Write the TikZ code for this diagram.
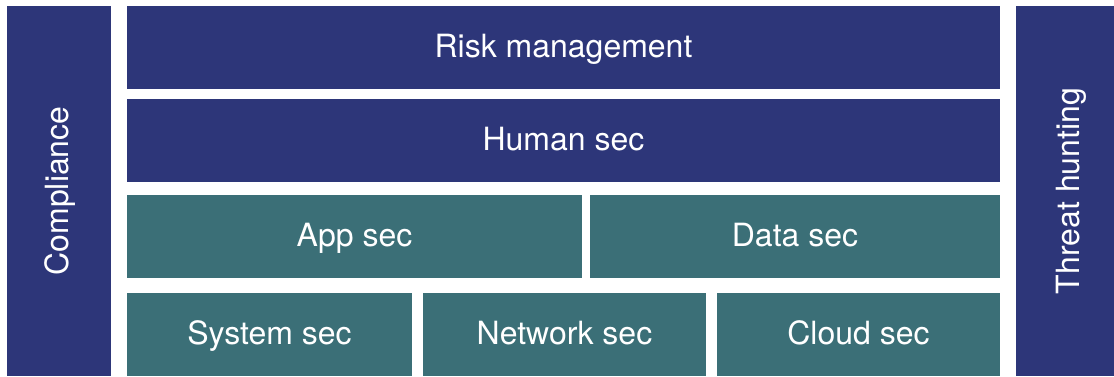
\documentclass[tikz,border=0pt]{standalone}
\usepackage{fontspec}
\setmainfont{TeX Gyre Heros}
\definecolor{navybox}{HTML}{2D3679}
\definecolor{tealbox}{HTML}{3B6F77}
\begin{document}
\begin{tikzpicture}[x=1pt,y=-1pt,
  layer/.style={fill=#1, text=white, inner sep=0pt, outer sep=0pt, text height=25pt, text depth=6pt, font=\fontsize{32}{36}\selectfont}]
	\useasboundingbox (0,0) rectangle (1114,376);
	\node[layer=navybox, rotate=90, minimum width=370, minimum height=104] (compl) at (59,191) {Compliance};
	\node[layer=navybox, rotate=90, minimum width=370, minimum height=98, text height=30pt, text depth=1pt] (threat) at (1065,191) {Threat hunting};
	\node[layer=navybox, minimum width=873, minimum height=83] (risk) at (563.5,47.5) {Risk management};
	\node[layer=navybox, minimum width=873, minimum height=83] (human) at (563.5,140.5) {Human sec};
	\node[layer=tealbox, minimum width=455, minimum height=83] (app) at (354.5,236.5) {App sec};
	\node[layer=tealbox, minimum width=410, minimum height=83] (data) at (795,236.5) {Data sec};
	\node[layer=tealbox, minimum width=285, minimum height=83] (system) at (269.5,334.5) {System sec};
	\node[layer=tealbox, minimum width=283, minimum height=83] (network) at (564.5,334.5) {Network sec};
	\node[layer=tealbox, minimum width=283, minimum height=83] (cloud) at (858.5,334.5) {Cloud sec};
\end{tikzpicture}
\end{document}
